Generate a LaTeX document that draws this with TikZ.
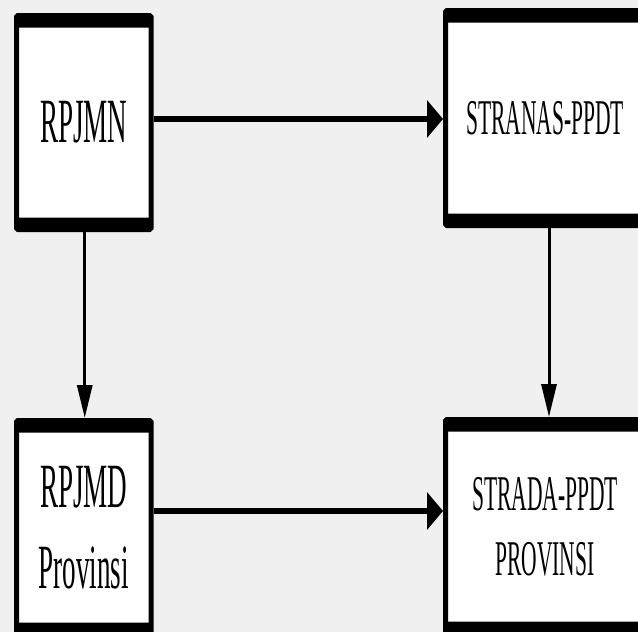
\documentclass[tikz,border=0pt]{standalone}
\usepackage{fontspec}
\usetikzlibrary{arrows.meta}
\setmainfont{Liberation Serif}
\definecolor{pagebg}{HTML}{F0F0F0}
% horizontally condensed serif lettering
\newcommand{\narrowtext}[1]{\scalebox{0.43}[1]{#1}}
\tikzset{
  panel/.style={draw=black, fill=white, line width=5pt, inner sep=0pt,
    rounded corners=1.5pt, align=center,
    path picture={
      \fill[black] (path picture bounding box.north west) rectangle
        ([yshift=-12pt]path picture bounding box.north east);
      \fill[black] (path picture bounding box.south west) rectangle
        ([yshift=12pt]path picture bounding box.south east);
    }},
  bigtext/.style={font=\fontsize{63}{81}\selectfont},
  midtext/.style={font=\fontsize{50}{65}\selectfont},
  hlink/.style={line width=6pt, -{Triangle[length=16pt,width=37pt]}},
  vlink/.style={line width=3pt, -{Triangle[length=33pt,width=15pt]}}
}
\begin{document}
\begin{tikzpicture}[x=1pt, y=-1pt]
  \useasboundingbox (0,0) rectangle (638,632);
  \fill[pagebg] (0,0) rectangle (638,632);

  \node[panel, bigtext, minimum width=134.5pt, minimum height=214pt] (rpjmn) at (83.75,122.5)
    {\narrowtext{RPJMN}};
  \node[panel, midtext, minimum width=199pt, minimum height=215pt] (stranas) at (545,118)
    {\narrowtext{STRANAS-PPDT}};
  \node[panel, bigtext, minimum width=134.5pt, minimum height=214pt] (rpjmd) at (83.75,527.5)
    {\narrowtext{RPJMD}\\\narrowtext{Provinsi}};
  \node[panel, midtext, minimum width=199pt, minimum height=214pt] (strada) at (545,526.5)
    {\narrowtext{STRADA-PPDT}\\\narrowtext{PROVINSI}};

  \draw[hlink] (rpjmn.east |- 0,119) -- (stranas.west |- 0,119);
  \draw[hlink] (rpjmd.east |- 0,511) -- (strada.west |- 0,511);
  \draw[vlink] ([xshift=1pt]rpjmn.south) -- ([xshift=1pt]rpjmd.north);
  \draw[vlink] ([xshift=4pt]stranas.south) -- ([xshift=4pt]strada.north);
\end{tikzpicture}
\end{document}
